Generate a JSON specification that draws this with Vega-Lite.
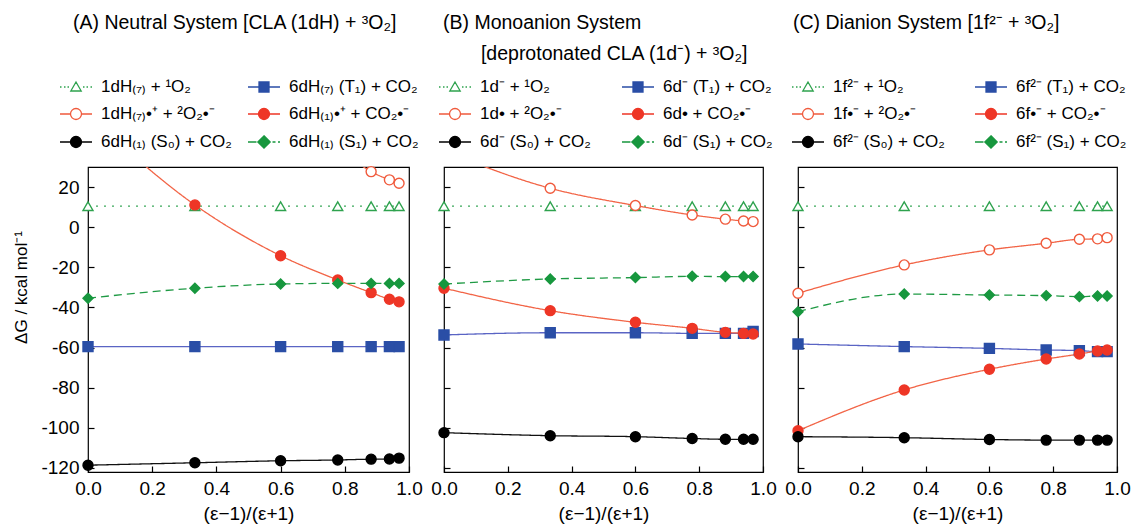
{
  "$schema": "https://vega.github.io/schema/vega-lite/v6.json",
  "padding": {"left": 12, "top": 11, "right": 5, "bottom": 2},
  "background": "white",
  "config": {
    "font": "Liberation Sans",
    "view": {"stroke": "black", "strokeWidth": 1.2},
    "axis": {"domain": false, "grid": false, "tickColor": "black", "tickSize": -6, "tickWidth": 1.2, "labelColor": "black", "labelFontSize": 19, "labelFont": "Liberation Sans", "titleFont": "Liberation Sans", "titleFontSize": 18, "titleFontWeight": "normal", "titleColor": "black", "labelOverlap": false, "labelFlush": false},
    "title": {"fontSize": 19.5, "fontWeight": "normal", "anchor": "start", "frame": "group", "color": "black", "lineHeight": 31, "font": "Liberation Sans"},
    "legend": {"labelFont": "Liberation Sans", "labelFontSize": 17, "labelColor": "black", "symbolSize": 400, "symbolStrokeWidth": 1.3, "symbolOpacity": 1, "labelOffset": 14, "labelLimit": 300, "rowPadding": 8, "padding": 0, "columns": 2, "orient": "none"}
  },
  "datasets": {
    "A": [
      {"x":0,"y":10.5,"s":"tri"},{"x":0.333,"y":10.5,"s":"tri"},{"x":0.6,"y":10.5,"s":"tri"},{"x":0.778,"y":10.5,"s":"tri"},{"x":0.882,"y":10.5,"s":"tri"},{"x":0.939,"y":10.5,"s":"tri"},{"x":0.969,"y":10.5,"s":"tri"},
      {"x":0,"y":-59.5,"s":"sq"},{"x":0.333,"y":-59.5,"s":"sq"},{"x":0.6,"y":-59.5,"s":"sq"},{"x":0.778,"y":-59.5,"s":"sq"},{"x":0.882,"y":-59.5,"s":"sq"},{"x":0.939,"y":-59.5,"s":"sq"},{"x":0.969,"y":-59.5,"s":"sq"},
      {"x":0,"y":140,"s":"oc"},{"x":0.333,"y":95,"s":"oc"},{"x":0.6,"y":62,"s":"oc"},{"x":0.778,"y":40,"s":"oc"},{"x":0.882,"y":27.7,"s":"oc"},{"x":0.939,"y":23.6,"s":"oc"},{"x":0.969,"y":21.9,"s":"oc"},
      {"x":0,"y":56,"s":"fc"},{"x":0.333,"y":11.1,"s":"fc"},{"x":0.6,"y":-14.2,"s":"fc"},{"x":0.778,"y":-26.3,"s":"fc"},{"x":0.882,"y":-32.6,"s":"fc"},{"x":0.939,"y":-35.9,"s":"fc"},{"x":0.969,"y":-37.2,"s":"fc"},
      {"x":0,"y":-118.6,"s":"bc"},{"x":0.333,"y":-117.4,"s":"bc"},{"x":0.6,"y":-116.4,"s":"bc"},{"x":0.778,"y":-116,"s":"bc"},{"x":0.882,"y":-115.6,"s":"bc"},{"x":0.939,"y":-115.5,"s":"bc"},{"x":0.969,"y":-115.1,"s":"bc"},
      {"x":0,"y":-35.4,"s":"dm"},{"x":0.333,"y":-30.4,"s":"dm"},{"x":0.6,"y":-28.3,"s":"dm"},{"x":0.778,"y":-28,"s":"dm"},{"x":0.882,"y":-28,"s":"dm"},{"x":0.939,"y":-28,"s":"dm"},{"x":0.969,"y":-28,"s":"dm"}
    ],
    "B": [
      {"x":0,"y":10.5,"s":"tri"},{"x":0.333,"y":10.5,"s":"tri"},{"x":0.6,"y":10.5,"s":"tri"},{"x":0.778,"y":10.5,"s":"tri"},{"x":0.882,"y":10.5,"s":"tri"},{"x":0.939,"y":10.5,"s":"tri"},{"x":0.969,"y":10.5,"s":"tri"},
      {"x":0,"y":-53.7,"s":"sq"},{"x":0.333,"y":-52.6,"s":"sq"},{"x":0.6,"y":-52.6,"s":"sq"},{"x":0.778,"y":-52.9,"s":"sq"},{"x":0.882,"y":-52.9,"s":"sq"},{"x":0.939,"y":-52.9,"s":"sq"},{"x":0.969,"y":-52,"s":"sq"},
      {"x":0,"y":38,"s":"oc"},{"x":0.333,"y":19.4,"s":"oc"},{"x":0.6,"y":10.8,"s":"oc"},{"x":0.778,"y":6.1,"s":"oc"},{"x":0.882,"y":4,"s":"oc"},{"x":0.939,"y":3.1,"s":"oc"},{"x":0.969,"y":2.8,"s":"oc"},
      {"x":0,"y":-30.4,"s":"fc"},{"x":0.333,"y":-41.6,"s":"fc"},{"x":0.6,"y":-47.4,"s":"fc"},{"x":0.778,"y":-50.4,"s":"fc"},{"x":0.882,"y":-52.4,"s":"fc"},{"x":0.939,"y":-52.9,"s":"fc"},{"x":0.969,"y":-53.2,"s":"fc"},
      {"x":0,"y":-102.4,"s":"bc"},{"x":0.333,"y":-103.9,"s":"bc"},{"x":0.6,"y":-104.4,"s":"bc"},{"x":0.778,"y":-105.3,"s":"bc"},{"x":0.882,"y":-105.7,"s":"bc"},{"x":0.939,"y":-105.7,"s":"bc"},{"x":0.969,"y":-105.7,"s":"bc"},
      {"x":0,"y":-28.3,"s":"dm"},{"x":0.333,"y":-25.8,"s":"dm"},{"x":0.6,"y":-25.1,"s":"dm"},{"x":0.778,"y":-24.5,"s":"dm"},{"x":0.882,"y":-24.6,"s":"dm"},{"x":0.939,"y":-24.6,"s":"dm"},{"x":0.969,"y":-24.6,"s":"dm"}
    ],
    "C": [
      {"x":0,"y":10.5,"s":"tri"},{"x":0.333,"y":10.5,"s":"tri"},{"x":0.6,"y":10.5,"s":"tri"},{"x":0.778,"y":10.5,"s":"tri"},{"x":0.882,"y":10.5,"s":"tri"},{"x":0.939,"y":10.5,"s":"tri"},{"x":0.969,"y":10.5,"s":"tri"},
      {"x":0,"y":-58.2,"s":"sq"},{"x":0.333,"y":-59.5,"s":"sq"},{"x":0.6,"y":-60.4,"s":"sq"},{"x":0.778,"y":-61.2,"s":"sq"},{"x":0.882,"y":-61.5,"s":"sq"},{"x":0.939,"y":-62,"s":"sq"},{"x":0.969,"y":-62,"s":"sq"},
      {"x":0,"y":-32.9,"s":"oc"},{"x":0.333,"y":-18.8,"s":"oc"},{"x":0.6,"y":-11.3,"s":"oc"},{"x":0.778,"y":-8,"s":"oc"},{"x":0.882,"y":-6,"s":"oc"},{"x":0.939,"y":-5.8,"s":"oc"},{"x":0.969,"y":-5.2,"s":"oc"},
      {"x":0,"y":-101.4,"s":"fc"},{"x":0.333,"y":-81.1,"s":"fc"},{"x":0.6,"y":-70.8,"s":"fc"},{"x":0.778,"y":-65.7,"s":"fc"},{"x":0.882,"y":-63.2,"s":"fc"},{"x":0.939,"y":-61.7,"s":"fc"},{"x":0.969,"y":-61.2,"s":"fc"},
      {"x":0,"y":-104.4,"s":"bc"},{"x":0.333,"y":-104.9,"s":"bc"},{"x":0.6,"y":-105.8,"s":"bc"},{"x":0.778,"y":-106.1,"s":"bc"},{"x":0.882,"y":-106.1,"s":"bc"},{"x":0.939,"y":-106.1,"s":"bc"},{"x":0.969,"y":-106.1,"s":"bc"},
      {"x":0,"y":-42.1,"s":"dm"},{"x":0.333,"y":-33.3,"s":"dm"},{"x":0.6,"y":-33.8,"s":"dm"},{"x":0.778,"y":-34.1,"s":"dm"},{"x":0.882,"y":-34.6,"s":"dm"},{"x":0.939,"y":-34.3,"s":"dm"},{"x":0.969,"y":-34.3,"s":"dm"}
    ]
  },
  "spacing": 35,
  "bounds": "flush",
  "hconcat": [
    {
      "width": 321, "height": 305,
      "title": {"text": "(A) Neutral System [CLA (1dH) + ³O₂]", "dx": -15, "offset": 43},
      "data": {"name": "A"},
      "layer": [
        {
          "mark": {"type": "line", "interpolate": "monotone", "clip": true, "strokeWidth": 1.3},
          "encoding": {
            "x": {"field": "x", "type": "quantitative", "scale": {"domain": [0, 1], "nice": false, "zero": false}, "axis": {"values": [0, 0.2, 0.4, 0.6, 0.8, 1], "format": ".1f", "title": "(ε−1)/(ε+1)", "titleFontSize": 19, "labelPadding": 13, "titlePadding": 6}},
            "y": {"field": "y", "type": "quantitative", "scale": {"domain": [-122, 30], "nice": false, "zero": false}, "axis": {"values": [20, 0, -20, -40, -60, -80, -100, -120], "labelExpr": "'' + datum.value", "title": "ΔG / kcal mol⁻¹", "titleFontSize": 17, "titleY": 120, "labelPadding": 15, "titlePadding": 10}},
            "color": {"field": "s", "type": "nominal", "scale": {"domain": ["tri","sq","oc","fc","bc","dm"], "range": ["#3aa85a","#5a64c4","#f26446","#f26446","#111111","#1f9a44"]}, "legend": null},
            "strokeDash": {"field": "s", "type": "nominal", "scale": {"domain": ["tri","sq","oc","fc","bc","dm"], "range": [[2,6],[1,0],[1,0],[1,0],[1,0],[8,5]]}, "legend": null}
          }
        },
        {
          "transform": [{"filter": "datum.y <= 30"}],
          "mark": {"type": "point", "filled": true, "opacity": 1, "size": 100, "strokeWidth": 1.4},
          "encoding": {
            "x": {"field": "x", "type": "quantitative"},
            "y": {"field": "y", "type": "quantitative"},
            "shape": {"field": "s", "type": "nominal", "scale": {"domain": ["tri","sq","oc","fc","bc","dm"], "range": ["triangle-up","square","circle","circle","circle","diamond"]}, "legend": null},
            "fill": {"field": "s", "type": "nominal", "scale": {"domain": ["tri","sq","oc","fc","bc","dm"], "range": ["#ffffff","#2a4ea6","#ffffff","#ee3626","#000000","#17973e"]}, "legend": null},
            "stroke": {"field": "s", "type": "nominal", "scale": {"domain": ["tri","sq","oc","fc","bc","dm"], "range": ["#2ea24e","#2a4ea6","#f05a3c","#ee3626","#000000","#17973e"]}, "legend": null}
          }
        },
        {
          "transform": [{"filter": "false"}],
          "mark": {"type": "point", "filled": true, "opacity": 1},
          "encoding": {
            "shape": {"field": "s", "type": "nominal", "scale": {"domain": ["tri","oc","bc","sq","fc","dm"], "range": [
              "M-1.6,0h0.15M-1.2,0h0.15M-0.85,0h0.15M0.7,0h0.15M1.05,0h0.15M1.45,0h0.15M0,-0.5L0.52,0.4L-0.52,0.4Z",
              "M-1.6,0H-0.55M0.55,0H1.6M0.55,0A0.55,0.55,0,1,1,-0.55,0A0.55,0.55,0,1,1,0.55,0Z",
              "M-1.6,0H-0.55M0.55,0H1.6M0.55,0A0.55,0.55,0,1,1,-0.55,0A0.55,0.55,0,1,1,0.55,0Z",
              "M-1.6,0H-0.5M0.5,0H1.6M-0.5,-0.5H0.5V0.5H-0.5Z",
              "M-1.6,0H-0.55M0.55,0H1.6M0.55,0A0.55,0.55,0,1,1,-0.55,0A0.55,0.55,0,1,1,0.55,0Z",
              "M-1.6,0H-0.75M0.85,0h0.3M1.4,0h0.2M0,-0.62L0.62,0L0,0.62L-0.62,0Z"
            ]}, "legend": {"legendX": -23, "legendY": -91, "title": null, "columnPadding": 13,
              "labelExpr": "datum.value == 'tri' ? '1dH₍₇₎ + ¹O₂' : datum.value == 'sq' ? '6dH₍₇₎ (T₁) + CO₂' : datum.value == 'oc' ? '1dH₍₇₎•⁺ + ²O₂•⁻' : datum.value == 'fc' ? '6dH₍₁₎•⁺ + CO₂•⁻' : datum.value == 'bc' ? '6dH₍₁₎ (S₀) + CO₂' : '6dH₍₁₎ (S₁) + CO₂'"}},
            "fill": {"field": "s", "type": "nominal", "scale": {"domain": ["tri","oc","bc","sq","fc","dm"], "range": ["#ffffff","#ffffff","#000000","#2a4ea6","#ee3626","#17973e"]}},
            "stroke": {"field": "s", "type": "nominal", "scale": {"domain": ["tri","oc","bc","sq","fc","dm"], "range": ["#2ea24e","#f05a3c","#000000","#2a4ea6","#ee3626","#17973e"]}}
          }
        }
      ],
      "resolve": {"scale": {"shape": "independent", "fill": "independent", "stroke": "independent", "color": "independent", "strokeDash": "independent"}}
    },
    {
      "width": 319, "height": 305,
      "title": {"text": ["(B) Monoanion System", "\u200b\u00a0\u00a0\u00a0\u00a0\u00a0\u00a0\u00a0[deprotonated CLA (1d⁻) + ³O₂]"], "dx": -1, "offset": 12},
      "data": {"name": "B"},
      "layer": [
        {
          "mark": {"type": "line", "interpolate": "monotone", "clip": true, "strokeWidth": 1.3},
          "encoding": {
            "x": {"field": "x", "type": "quantitative", "scale": {"domain": [0, 1], "nice": false, "zero": false}, "axis": {"values": [0, 0.2, 0.4, 0.6, 0.8, 1], "format": ".1f", "title": "(ε−1)/(ε+1)", "titleFontSize": 19, "labelPadding": 13, "titlePadding": 6}},
            "y": {"field": "y", "type": "quantitative", "scale": {"domain": [-122, 30], "nice": false, "zero": false}, "axis": {"values": [20, 0, -20, -40, -60, -80, -100, -120], "labels": false, "title": null}},
            "color": {"field": "s", "type": "nominal", "scale": {"domain": ["tri","sq","oc","fc","bc","dm"], "range": ["#3aa85a","#5a64c4","#f26446","#f26446","#111111","#1f9a44"]}, "legend": null},
            "strokeDash": {"field": "s", "type": "nominal", "scale": {"domain": ["tri","sq","oc","fc","bc","dm"], "range": [[2,6],[1,0],[1,0],[1,0],[1,0],[8,5]]}, "legend": null}
          }
        },
        {
          "transform": [{"filter": "datum.y <= 30"}],
          "mark": {"type": "point", "filled": true, "opacity": 1, "size": 100, "strokeWidth": 1.4},
          "encoding": {
            "x": {"field": "x", "type": "quantitative"},
            "y": {"field": "y", "type": "quantitative"},
            "shape": {"field": "s", "type": "nominal", "scale": {"domain": ["tri","sq","oc","fc","bc","dm"], "range": ["triangle-up","square","circle","circle","circle","diamond"]}, "legend": null},
            "fill": {"field": "s", "type": "nominal", "scale": {"domain": ["tri","sq","oc","fc","bc","dm"], "range": ["#ffffff","#2a4ea6","#ffffff","#ee3626","#000000","#17973e"]}, "legend": null},
            "stroke": {"field": "s", "type": "nominal", "scale": {"domain": ["tri","sq","oc","fc","bc","dm"], "range": ["#2ea24e","#2a4ea6","#f05a3c","#ee3626","#000000","#17973e"]}, "legend": null}
          }
        },
        {
          "transform": [{"filter": "false"}],
          "mark": {"type": "point", "filled": true, "opacity": 1},
          "encoding": {
            "shape": {"field": "s", "type": "nominal", "scale": {"domain": ["tri","oc","bc","sq","fc","dm"], "range": [
              "M-1.6,0h0.15M-1.2,0h0.15M-0.85,0h0.15M0.7,0h0.15M1.05,0h0.15M1.45,0h0.15M0,-0.5L0.52,0.4L-0.52,0.4Z",
              "M-1.6,0H-0.55M0.55,0H1.6M0.55,0A0.55,0.55,0,1,1,-0.55,0A0.55,0.55,0,1,1,0.55,0Z",
              "M-1.6,0H-0.55M0.55,0H1.6M0.55,0A0.55,0.55,0,1,1,-0.55,0A0.55,0.55,0,1,1,0.55,0Z",
              "M-1.6,0H-0.5M0.5,0H1.6M-0.5,-0.5H0.5V0.5H-0.5Z",
              "M-1.6,0H-0.55M0.55,0H1.6M0.55,0A0.55,0.55,0,1,1,-0.55,0A0.55,0.55,0,1,1,0.55,0Z",
              "M-1.6,0H-0.75M0.85,0h0.3M1.4,0h0.2M0,-0.62L0.62,0L0,0.62L-0.62,0Z"
            ]}, "legend": {"legendX": 0, "legendY": -91, "title": null, "columnPadding": 28,
              "labelExpr": "datum.value == 'tri' ? '1d⁻ + ¹O₂' : datum.value == 'sq' ? '6d⁻ (T₁) + CO₂' : datum.value == 'oc' ? '1d• + ²O₂•⁻' : datum.value == 'fc' ? '6d• + CO₂•⁻' : datum.value == 'bc' ? '6d⁻ (S₀) + CO₂' : '6d⁻ (S₁) + CO₂'"}},
            "fill": {"field": "s", "type": "nominal", "scale": {"domain": ["tri","oc","bc","sq","fc","dm"], "range": ["#ffffff","#ffffff","#000000","#2a4ea6","#ee3626","#17973e"]}},
            "stroke": {"field": "s", "type": "nominal", "scale": {"domain": ["tri","oc","bc","sq","fc","dm"], "range": ["#2ea24e","#f05a3c","#000000","#2a4ea6","#ee3626","#17973e"]}}
          }
        }
      ],
      "resolve": {"scale": {"shape": "independent", "fill": "independent", "stroke": "independent", "color": "independent", "strokeDash": "independent"}}
    },
    {
      "width": 319, "height": 305,
      "title": {"text": "(C) Dianion System [1f²⁻ + ³O₂]", "dx": -5, "offset": 43},
      "data": {"name": "C"},
      "layer": [
        {
          "mark": {"type": "line", "interpolate": "monotone", "clip": true, "strokeWidth": 1.3},
          "encoding": {
            "x": {"field": "x", "type": "quantitative", "scale": {"domain": [0, 1], "nice": false, "zero": false}, "axis": {"values": [0, 0.2, 0.4, 0.6, 0.8, 1], "format": ".1f", "title": "(ε−1)/(ε+1)", "titleFontSize": 19, "labelPadding": 13, "titlePadding": 6}},
            "y": {"field": "y", "type": "quantitative", "scale": {"domain": [-122, 30], "nice": false, "zero": false}, "axis": {"values": [20, 0, -20, -40, -60, -80, -100, -120], "labels": false, "title": null}},
            "color": {"field": "s", "type": "nominal", "scale": {"domain": ["tri","sq","oc","fc","bc","dm"], "range": ["#3aa85a","#5a64c4","#f26446","#f26446","#111111","#1f9a44"]}, "legend": null},
            "strokeDash": {"field": "s", "type": "nominal", "scale": {"domain": ["tri","sq","oc","fc","bc","dm"], "range": [[2,6],[1,0],[1,0],[1,0],[1,0],[8,5]]}, "legend": null}
          }
        },
        {
          "transform": [{"filter": "datum.y <= 30"}],
          "mark": {"type": "point", "filled": true, "opacity": 1, "size": 100, "strokeWidth": 1.4},
          "encoding": {
            "x": {"field": "x", "type": "quantitative"},
            "y": {"field": "y", "type": "quantitative"},
            "shape": {"field": "s", "type": "nominal", "scale": {"domain": ["tri","sq","oc","fc","bc","dm"], "range": ["triangle-up","square","circle","circle","circle","diamond"]}, "legend": null},
            "fill": {"field": "s", "type": "nominal", "scale": {"domain": ["tri","sq","oc","fc","bc","dm"], "range": ["#ffffff","#2a4ea6","#ffffff","#ee3626","#000000","#17973e"]}, "legend": null},
            "stroke": {"field": "s", "type": "nominal", "scale": {"domain": ["tri","sq","oc","fc","bc","dm"], "range": ["#2ea24e","#2a4ea6","#f05a3c","#ee3626","#000000","#17973e"]}, "legend": null}
          }
        },
        {
          "transform": [{"filter": "false"}],
          "mark": {"type": "point", "filled": true, "opacity": 1},
          "encoding": {
            "shape": {"field": "s", "type": "nominal", "scale": {"domain": ["tri","oc","bc","sq","fc","dm"], "range": [
              "M-1.6,0h0.15M-1.2,0h0.15M-0.85,0h0.15M0.7,0h0.15M1.05,0h0.15M1.45,0h0.15M0,-0.5L0.52,0.4L-0.52,0.4Z",
              "M-1.6,0H-0.55M0.55,0H1.6M0.55,0A0.55,0.55,0,1,1,-0.55,0A0.55,0.55,0,1,1,0.55,0Z",
              "M-1.6,0H-0.55M0.55,0H1.6M0.55,0A0.55,0.55,0,1,1,-0.55,0A0.55,0.55,0,1,1,0.55,0Z",
              "M-1.6,0H-0.5M0.5,0H1.6M-0.5,-0.5H0.5V0.5H-0.5Z",
              "M-1.6,0H-0.55M0.55,0H1.6M0.55,0A0.55,0.55,0,1,1,-0.55,0A0.55,0.55,0,1,1,0.55,0Z",
              "M-1.6,0H-0.75M0.85,0h0.3M1.4,0h0.2M0,-0.62L0.62,0L0,0.62L-0.62,0Z"
            ]}, "legend": {"legendX": -1, "legendY": -91, "title": null, "columnPadding": 27,
              "labelExpr": "datum.value == 'tri' ? '1f²⁻ + ¹O₂' : datum.value == 'sq' ? '6f²⁻ (T₁) + CO₂' : datum.value == 'oc' ? '1f•⁻ + ²O₂•⁻' : datum.value == 'fc' ? '6f•⁻ + CO₂•⁻' : datum.value == 'bc' ? '6f²⁻ (S₀) + CO₂' : '6f²⁻ (S₁) + CO₂'"}},
            "fill": {"field": "s", "type": "nominal", "scale": {"domain": ["tri","oc","bc","sq","fc","dm"], "range": ["#ffffff","#ffffff","#000000","#2a4ea6","#ee3626","#17973e"]}},
            "stroke": {"field": "s", "type": "nominal", "scale": {"domain": ["tri","oc","bc","sq","fc","dm"], "range": ["#2ea24e","#f05a3c","#000000","#2a4ea6","#ee3626","#17973e"]}}
          }
        }
      ],
      "resolve": {"scale": {"shape": "independent", "fill": "independent", "stroke": "independent", "color": "independent", "strokeDash": "independent"}}
    }
  ]
}
